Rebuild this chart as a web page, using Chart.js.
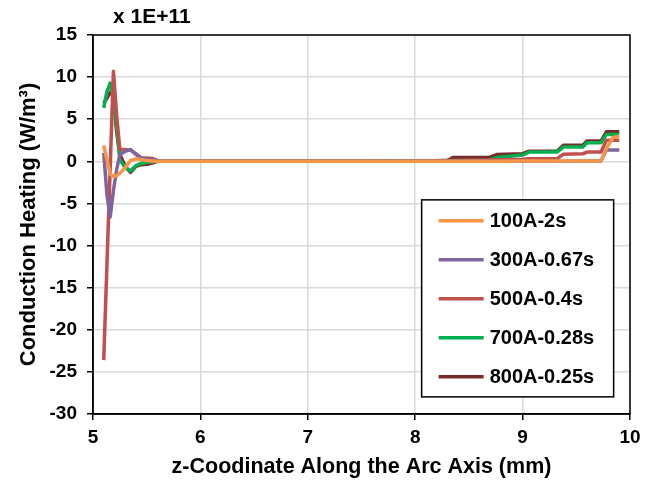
<!DOCTYPE html>
<html>
<head>
<meta charset="utf-8">
<script src="https://cdn.jsdelivr.net/npm/chart.js@4"></script>
<style>
  html, body { margin: 0; padding: 0; background: #fff; }
</style>
</head>
<body>
<canvas id="chart" width="655" height="483"></canvas>
<script>
// z positions (mm) shared by every series
const zPos = [5.10, 5.13, 5.16, 5.19, 5.22, 5.25, 5.30, 5.35, 5.40, 5.45, 5.50, 5.55, 5.60, 5.70,
              6.00, 7.00, 7.50, 8.00, 8.30, 8.35, 8.68, 8.76, 9.00, 9.06, 9.32, 9.38, 9.56, 9.60,
              9.73, 9.78, 9.84, 9.90];

// conduction heating, in units of 1E+11 W/m3
const heat100A = [1.9, 0.2, -1.5, -1.8, -1.7, -1.4, -0.75, 0.1, 0.3, 0.2, 0.1, 0.05, 0, 0,
                  0, 0, 0, 0, 0, 0, 0.02, 0.02, 0.03, 0.03, 0.03, 0.03, 0.03, 0.03,
                  0.05, 1.5, 2.8, 3.0];
const heat300A = [1.0, -4.0, -6.6, -3.5, -1.0, 0.8, 1.2, 1.4, 0.8, 0.35, 0.3, 0.2, 0.1, 0,
                  0, 0, 0, 0, 0, 0, 0, 0, 0.02, 0.02, 0.02, 0.02, 0.03, 0.03,
                  0.05, 1.35, 1.35, 1.35];
const heat500A = [-23.6, -12.2, -0.8, 10.7, 5.5, 1.4, 1.4, 1.3, 0.9, 0.4, 0.4, 0.35, 0.1, 0,
                  0, 0, 0.02, 0.05, 0.1, 0.1, 0.15, 0.2, 0.25, 0.3, 0.3, 0.85, 0.9, 1.1,
                  1.1, 2.5, 2.5, 2.5];
const heat700A = [6.35, 8.3, 9.3, 7.5, 4.2, 0.2, -0.75, -1.15, -0.5, -0.25, -0.1, -0.05, 0, 0,
                  0, 0, 0.03, 0.05, 0.1, 0.1, 0.1, 0.45, 0.75, 1.1, 1.1, 1.7, 1.7, 2.2,
                  2.2, 3.2, 3.2, 3.2];
const heat800A = [6.9, 7.5, 8.2, 7.8, 3.5, 0.8, -0.6, -1.3, -0.6, -0.4, -0.35, -0.2, 0, 0,
                  0, 0.02, 0.05, 0.08, 0.1, 0.45, 0.45, 0.8, 0.9, 1.2, 1.2, 1.9, 1.9, 2.4,
                  2.4, 3.5, 3.5, 3.5];

const seriesNames = ['100A-2s', '300A-0.67s', '500A-0.4s', '700A-0.28s', '800A-0.25s'];
const seriesColors = ['#F79646', '#8064A2', '#C0504D', '#00B050', '#772C2A'];
const seriesValues = [heat100A, heat300A, heat500A, heat700A, heat800A];

const FONT = "'Liberation Sans', Arial, sans-serif";

// box around the plot, the "x 1E+11" note and the boxed legend inside the plot
const framePlugin = {
    id: 'frame',
    afterDraw(chart) {
        const ctx = chart.ctx;
        const a = chart.chartArea;
        ctx.save();
        ctx.strokeStyle = '#000';
        ctx.lineWidth = 1.5;
        ctx.strokeRect(a.left, a.top, a.right - a.left, a.bottom - a.top);

        ctx.fillStyle = '#000';
        ctx.font = 'bold 21px ' + FONT;
        ctx.textBaseline = 'middle';
        ctx.textAlign = 'left';
        ctx.fillText('x 1E+11', a.left + 20, 17);

        // legend
        const w = a.right - a.left, h = a.bottom - a.top;
        const bx = a.left + 0.612 * w, by = a.top + 0.435 * h;
        const bw = 192, bh = 197;
        ctx.fillStyle = '#fff';
        ctx.fillRect(bx, by, bw, bh);
        ctx.lineWidth = 1.5;
        ctx.strokeRect(bx, by, bw, bh);
        chart.data.datasets.forEach((ds, i) => {
            const y = by + 21 + i * 39;
            ctx.strokeStyle = ds.borderColor;
            ctx.lineWidth = 3.5;
            ctx.beginPath();
            ctx.moveTo(bx + 17, y);
            ctx.lineTo(bx + 62, y);
            ctx.stroke();
            ctx.fillStyle = '#000';
            ctx.font = 'bold 20px ' + FONT;
            ctx.fillText(ds.label, bx + 68, y + 1);
        });
        ctx.restore();
    }
};

new Chart(document.getElementById('chart'), {
    type: 'line',
    data: {
        datasets: seriesNames.map((name, i) => ({
            label: name,
            data: zPos.map((z, k) => ({ x: z, y: seriesValues[i][k] })),
            borderColor: seriesColors[i],
            backgroundColor: seriesColors[i],
            borderWidth: 3.5,
            borderJoinStyle: 'round',
            pointRadius: 0,
            tension: 0,
            fill: false
        }))
    },
    options: {
        responsive: false,
        animation: false,
        layout: { padding: { left: 0, right: 25, top: 35, bottom: 0 } },
        plugins: {
            legend: { display: false },
            tooltip: { enabled: false }
        },
        scales: {
            x: {
                type: 'linear',
                min: 5,
                max: 10,
                ticks: {
                    stepSize: 1,
                    color: '#000',
                    padding: 6,
                    font: { family: FONT, size: 19, weight: 'bold' }
                },
                grid: { color: '#d9d9d9', tickColor: '#000', tickLength: 6, lineWidth: 1.5 },
                border: { color: '#000', width: 1.5 },
                title: {
                    display: true,
                    text: 'z-Coodinate Along the Arc Axis (mm)',
                    color: '#000',
                    padding: { top: 0, bottom: 3 },
                    font: { family: FONT, size: 21.5, weight: 'bold' }
                },
                afterFit(scale) { scale.height = 69; }
            },
            y: {
                min: -30,
                max: 15,
                ticks: {
                    stepSize: 5,
                    color: '#000',
                    padding: 10,
                    font: { family: FONT, size: 19, weight: 'bold' }
                },
                grid: { color: '#d9d9d9', tickColor: '#000', tickLength: 6, lineWidth: 1.5 },
                border: { color: '#000', width: 1.5 },
                title: {
                    display: true,
                    text: 'Conduction Heating (W/m³)',
                    color: '#000',
                    padding: { top: 16, bottom: 0 },
                    font: { family: FONT, size: 22, weight: 'bold' }
                },
                afterFit(scale) { scale.width = 93; }
            }
        }
    },
    plugins: [framePlugin]
});
</script>
</body>
</html>
